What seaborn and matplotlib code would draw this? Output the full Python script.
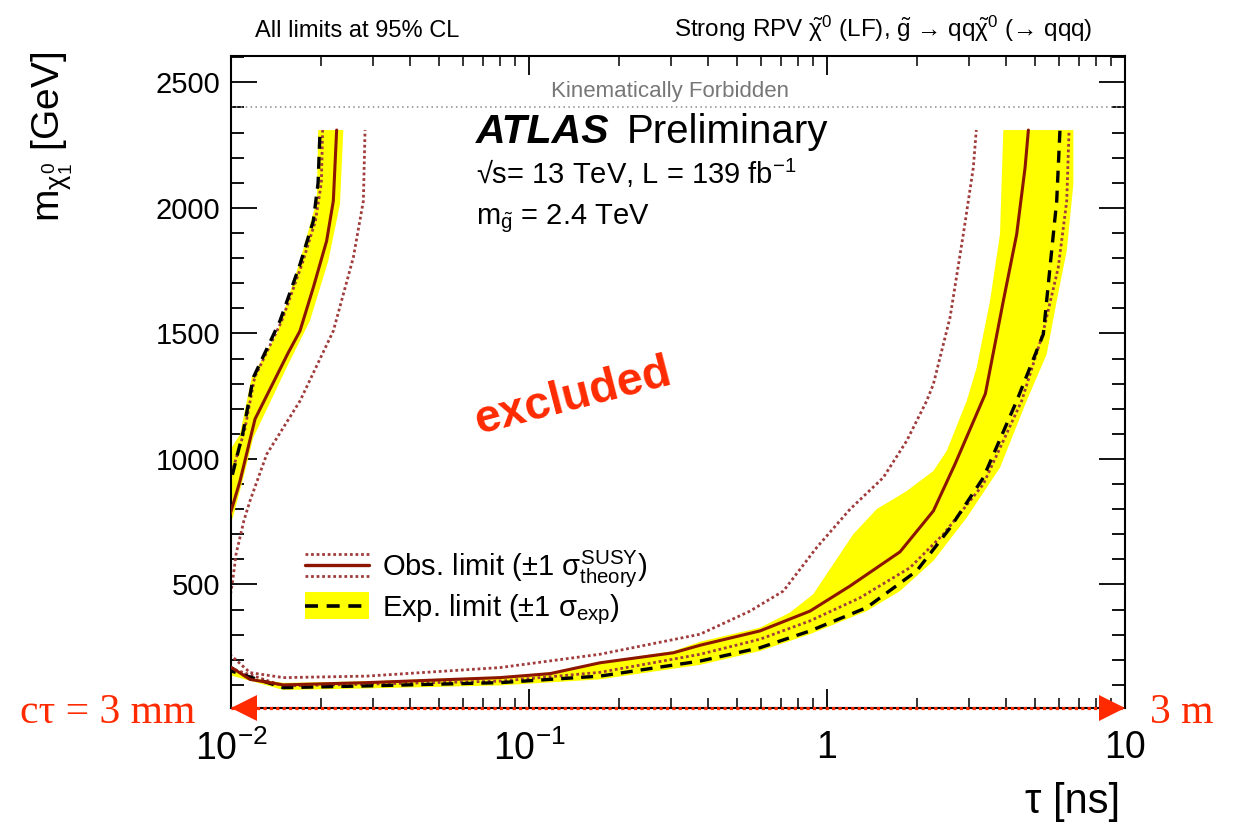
import numpy as np
import pandas as pd
import matplotlib
matplotlib.use("Agg")
import matplotlib.pyplot as plt
import seaborn as sns
from matplotlib.lines import Line2D
from matplotlib.patches import Rectangle
from matplotlib.legend_handler import HandlerBase
from matplotlib.ticker import LogLocator, MultipleLocator, NullFormatter

# ---------------- limit contours: lifetime tau [ns] vs neutralino mass [GeV] ----------------
# short-lifetime (left) branch
obs_left_tau = [0.0097, 0.01005, 0.01072, 0.01204, 0.01556, 0.01704, 0.01889, 0.02094, 0.02205, 0.02262]
obs_left_m = [740, 800, 912, 1159, 1423, 1510, 1683, 1869, 2028, 2310]

exp_left_tau = [0.0097, 0.0100, 0.0110, 0.01188, 0.0146, 0.01704, 0.01889, 0.0196, 0.0199]
exp_left_m = [860, 915, 1112, 1324, 1550, 1775, 1948, 2100, 2310]

thup_left_tau = [0.0099, 0.01013, 0.01040, 0.01104, 0.01158, 0.01318, 0.01704, 0.02205, 0.02573, 0.02781, 0.02817]
thup_left_m = [440, 514, 621, 753, 833, 1019, 1231, 1510, 1802, 2028, 2310]

thdn_left_tau = [0.0097, 0.0100, 0.0111, 0.0120, 0.0148, 0.0173, 0.0192, 0.0201, 0.0203]
thdn_left_m = [880, 935, 1112, 1324, 1550, 1775, 1948, 2100, 2310]

band_left_a_tau = [0.0095, 0.01005, 0.01072, 0.01173, 0.01423, 0.01704, 0.01939, 0.01962]
band_left_a_m = [960, 1045, 1098, 1324, 1497, 1789, 2028, 2310]
band_left_b_tau = [0.02382, 0.02321, 0.02121, 0.01840, 0.01556, 0.01188, 0.0110, 0.01018, 0.0097]
band_left_b_m = [2310, 2015, 1789, 1550, 1377, 1085, 925, 773, 700]

# low-mass / long-lifetime branch
obs_tau = [0.0095, 0.01005, 0.01158, 0.01498, 0.02853, 0.0799, 0.1178, 0.1729, 0.3053, 0.3753,
           0.5958, 0.877, 1.195, 1.758, 2.275, 2.69, 3.40, 3.905, 4.33, 4.62, 4.74]
obs_m = [180, 169, 122, 100, 109, 129, 145, 188, 228, 258,
         315, 394, 494, 630, 793, 980, 1260, 1629, 1895, 2160, 2310]

exp_tau = [0.0095, 0.01005, 0.01498, 0.02853, 0.0799, 0.1729, 0.3753, 0.5958, 0.877, 1.359,
           2.0, 2.587, 3.345, 4.33, 5.32, 5.60, 5.90, 6.05]
exp_m = [165, 155, 89, 96, 109, 135, 195, 248, 315, 408,
         554, 725, 925, 1231, 1497, 1762, 2028, 2310]

thup_tau = [0.0095, 0.01005, 0.01158, 0.01498, 0.02853, 0.0799, 0.1729, 0.3753, 0.5515, 0.714,
            0.923, 1.195, 1.545, 1.851, 2.16, 2.275, 2.587, 2.867, 3.097, 3.17]
thup_m = [230, 215, 149, 129, 135, 169, 222, 302, 394, 474,
          647, 800, 926, 1072, 1231, 1298, 1563, 1895, 2160, 2310]

thdn_tau = [0.0095, 0.01005, 0.01498, 0.02853, 0.0799, 0.1729, 0.3753, 0.5958, 0.877, 1.29,
            1.899, 2.457, 3.345, 4.50, 5.30, 5.97, 6.375, 6.49]
thdn_m = [175, 165, 96, 103, 115, 150, 222, 282, 355, 447,
          567, 700, 899, 1231, 1500, 1762, 2028, 2310]

band_hi_tau = [0.0093, 0.01005, 0.01158, 0.01498, 0.02853, 0.0799, 0.1178, 0.1729, 0.3053, 0.3753,
               0.5958, 0.751, 0.899, 1.225, 1.468, 1.851, 2.275, 2.522, 2.943, 3.179, 3.524, 3.806, 3.905]
band_hi_m = [185, 172, 128, 108, 114, 133, 150, 190, 235, 272,
             328, 388, 461, 700, 800, 872, 952, 1032, 1231, 1364, 1629, 1895, 2310]
band_lo_tau = [0.0093, 0.01005, 0.01498, 0.02853, 0.0799, 0.1729, 0.3753, 0.5958, 0.877, 1.359,
               1.758, 2.275, 2.943, 3.806, 4.677, 5.46, 5.90, 6.375, 6.71, 6.71]
band_lo_m = [145, 137, 80, 86, 98, 122, 180, 235, 302, 394,
             474, 594, 766, 965, 1231, 1417, 1629, 1829, 2094, 2310]

m_gluino = 2400
x_ticks = [0.01, 0.1, 1, 10]
x_ticklabels = [r"$10^{-2}$", r"$10^{-1}$", "1", "10"]
y_ticks = [500, 1000, 1500, 2000, 2500]

# ---------------- style ----------------
sns.set_theme(style="ticks")
plt.rcParams["font.family"] = ["Liberation Sans", "DejaVu Sans"]
plt.rcParams.update({
    "mathtext.fontset": "custom",
    "mathtext.rm": "Liberation Sans",
    "mathtext.it": "Liberation Sans",
    "mathtext.bf": "Liberation Sans:bold",
    "mathtext.sf": "Liberation Sans",
    "axes.linewidth": 1.5,
    "axes.edgecolor": "black",
    "text.color": "black",
    "xtick.color": "black",
    "ytick.color": "black",
})

SOLID = "#8B1500"
DOT = "#A03C3C"
YELLOW = "#FFFF00"
RED = "#FF2A00"
DOTS = (0, (1, 1))
DASH = (0, (3.6, 2.4))

W, H = 1242, 824
fig = plt.figure(figsize=(W / 100, H / 100), dpi=100)
ax = fig.add_axes([231 / W, 1 - 708 / H, (1125 - 231) / W, (708 - 56) / H])
ax.set_xscale("log")
ax.set_xlim(0.01, 10)
ax.set_ylim(8, 2605)

# yellow expected-limit band
ax.fill(np.r_[band_left_a_tau, band_left_b_tau], np.r_[band_left_a_m, band_left_b_m],
        color=YELLOW, lw=0, zorder=1)
ax.fill(np.r_[band_hi_tau, band_lo_tau[::-1]], np.r_[band_hi_m, band_lo_m[::-1]],
        color=YELLOW, lw=0, zorder=1)


def draw(tau, m, **kw):
    df = pd.DataFrame({"tau": tau, "m": m})
    sns.lineplot(data=df, x="tau", y="m", sort=False, estimator=None, ax=ax, **kw)


for t, m in [(thup_left_tau, thup_left_m), (thup_tau, thup_m),
             (thdn_left_tau, thdn_left_m), (thdn_tau, thdn_m)]:
    draw(t, m, color=DOT, lw=2.0, linestyle=DOTS, zorder=2)
for t, m in [(exp_left_tau, exp_left_m), (exp_tau, exp_m)]:
    draw(t, m, color="black", lw=2.4, linestyle=DASH, zorder=3)
for t, m in [(obs_left_tau, obs_left_m), (obs_tau, obs_m)]:
    draw(t, m, color=SOLID, lw=2.2, linestyle="-", zorder=4)

# kinematic boundary
ax.axhline(m_gluino, color="#8a8a8a", lw=1.1, linestyle=(0, (1, 2.2)), zorder=2)
ax.text(0.491, 2462, "Kinematically Forbidden", transform=ax.get_yaxis_transform(),
        ha="center", va="center", fontsize=16, color="#777777")

# axes, ticks
ax.set_xticks(x_ticks)
ax.set_xticklabels(x_ticklabels)
ax.xaxis.set_minor_locator(LogLocator(base=10, subs=np.arange(2, 10)))
ax.xaxis.set_minor_formatter(NullFormatter())
ax.set_yticks(y_ticks)
ax.yaxis.set_minor_locator(MultipleLocator(100))
ax.xaxis.set_tick_params(which="major", direction="in", length=13.5, width=1.3, top=True,
                         labelsize=27, pad=16)
ax.xaxis.set_tick_params(which="minor", direction="in", length=7, width=1.1, top=True)
ax.yaxis.set_tick_params(which="major", direction="in", length=19, width=1.3, right=True,
                         labelsize=21, pad=8)
ax.yaxis.set_tick_params(which="minor", direction="in", length=9.5, width=1.3, right=True)
ax.set_xlabel("")
ax.set_ylabel("")
for s in ax.spines.values():
    s.set_linewidth(1.5)
    s.set_visible(True)

# lifetime arrow along the bottom axis
ax.plot([0, 1], [0, 0], transform=ax.transAxes, color=RED, lw=2.3, linestyle=DOTS,
        clip_on=False, zorder=6, solid_capstyle="butt", dash_capstyle="butt")
ax.plot([0.0145], [0.0], transform=ax.transAxes, marker="<", ms=19, color=RED, mew=0,
        clip_on=False, zorder=7)
ax.plot([0.9855], [0.0], transform=ax.transAxes, marker=">", ms=19, color=RED, mew=0,
        clip_on=False, zorder=7)
fig.text(20 / W, 1 - 723 / H, "cτ = 3 mm", family=["Liberation Serif", "DejaVu Serif"],
         fontsize=30, color=RED, ha="left", va="baseline")
fig.text(1150 / W, 1 - 723 / H, "3 m", family=["Liberation Serif", "DejaVu Serif"],
         fontsize=30, color=RED, ha="left", va="baseline")

# axis titles
fig.text(1120 / W, 1 - 813 / H, "τ [ns]", fontsize=30, ha="right", va="baseline")
fig.text(52 / W, 1 - 52 / H, r"m$_{\chi_{1}^{0}}$ [GeV]", fontsize=28, rotation=90,
         ha="center", va="top")

# header texts
fig.text(255 / W, 1 - 37 / H, "All limits at 95% CL", fontsize=17, ha="left", va="baseline")
fig.text(1092 / W, 1 - 37 / H,
         "Strong RPV " + r"$\tilde{\chi}^{0}$" + " (LF), " + r"$\tilde{\mathrm{g}}$"
         + " → qq" + r"$\tilde{\chi}^{0}$" + " (→ qqq)",
         fontsize=17.5, ha="right", va="baseline")

fig.text(476 / W, 1 - 143 / H, "ATLAS", fontsize=29.5, fontweight="bold", fontstyle="italic",
         ha="left", va="baseline")
fig.text(627 / W, 1 - 143 / H, "Preliminary", fontsize=29, ha="left", va="baseline")
fig.text(476 / W, 1 - 184 / H, r"√s= 13 TeV, L = 139 fb$^{-1}$", fontsize=21,
         ha="left", va="baseline")
fig.text(476 / W, 1 - 224 / H, r"m$_{\tilde{\mathrm{g}}}$ = 2.4 TeV", fontsize=21,
         ha="left", va="baseline")

fig.text(573 / W, 1 - 397 / H, "excluded", fontsize=33.5, fontweight="bold", color=RED,
         rotation=14.5, rotation_mode="anchor", ha="center", va="center")


# legend
class ObsHandler(HandlerBase):
    def create_artists(self, legend, orig_handle, xdescent, ydescent, width, height, fontsize, trans):
        x0, x1 = -xdescent, width - xdescent
        yc = height / 2 - ydescent
        off = 0.40 * height
        arts = []
        for dy, ls, lw, col in [(off, DOTS, 2.0, DOT), (0, "-", 2.4, SOLID), (-off, DOTS, 2.0, DOT)]:
            arts.append(Line2D([x0, x1], [yc + dy] * 2, color=col, lw=lw, linestyle=ls, transform=trans))
        return arts


class ExpHandler(HandlerBase):
    def create_artists(self, legend, orig_handle, xdescent, ydescent, width, height, fontsize, trans):
        x0, x1 = -xdescent, width - xdescent
        rect = Rectangle((x0, -ydescent), width, height, facecolor=YELLOW, edgecolor="none",
                         transform=trans)
        ln = Line2D([x0, x1], [height / 2 - ydescent] * 2, color="black", lw=2.6,
                    linestyle=(0, (3.6, 2.4)), transform=trans)
        return [rect, ln]


h_obs = Line2D([], [])
h_exp = Line2D([], [])
ax.legend([h_obs, h_exp],
          [r"Obs. limit ($\pm$1 $\sigma_{\mathrm{theory}}^{\mathrm{SUSY}}$)",
           r"Exp. limit ($\pm$1 $\sigma_{\mathrm{exp}}$)"],
          handler_map={h_obs: ObsHandler(), h_exp: ExpHandler()},
          loc="upper left", bbox_to_anchor=(305 / W, 1 - 548 / H), bbox_transform=fig.transFigure,
          frameon=False, fontsize=21, borderpad=0, borderaxespad=0,
          handlelength=2.2, handleheight=1.05, handletextpad=0.45, labelspacing=0.1)

fig.savefig("out.png", dpi=100, facecolor="white")
